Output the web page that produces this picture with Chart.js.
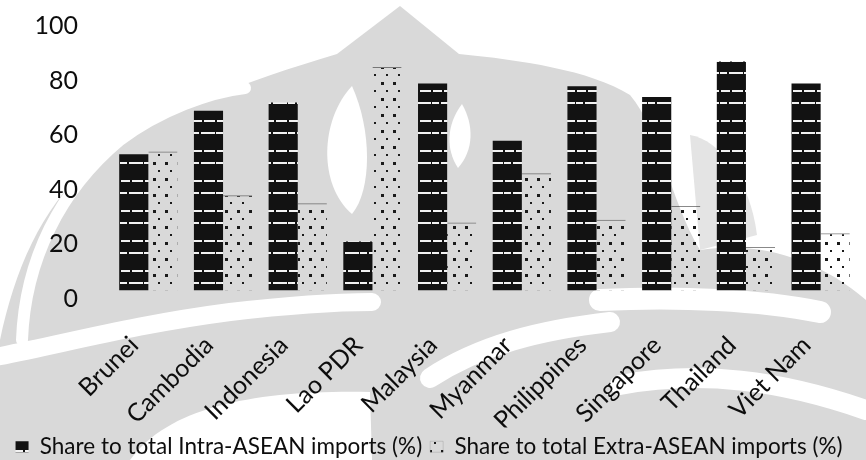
<!DOCTYPE html>
<html>
<head>
<meta charset="utf-8">
<script src="https://cdn.jsdelivr.net/npm/chart.js@4"></script>
<style>
  html, body { margin: 0; padding: 0; background: #ffffff; }
  #wrap { width: 866px; height: 460px; position: relative; }
</style>
</head>
<body>
<div id="wrap"><canvas id="c" width="866" height="460"></canvas></div>
<script>
// ASEAN member states
const countries = ['Brunei', 'Cambodia', 'Indonesia', 'Lao PDR', 'Malaysia',
                   'Myanmar', 'Philippines', 'Singapore', 'Thailand', 'Viet Nam'];
// Share to total Intra-ASEAN imports (%)
const intraShare = [50, 66, 69, 18, 76, 55, 75, 71, 84, 76];
// Share to total Extra-ASEAN imports (%)
const extraShare = [51, 35, 32, 82, 25, 43, 26, 31, 16, 21];
// Value axis ticks
const yTicks = [0, 20, 40, 60, 80, 100];
const seriesNames = ['Share to total Intra-ASEAN imports (%)',
                     'Share to total Extra-ASEAN imports (%)'];

const FONT = 'Lato, "Open Sans", "DejaVu Sans", sans-serif';
const INK = '#0d0d0d';

// Dark hatched fill: near-black with broken white horizontal streaks
function darkPattern() {
  const c = document.createElement('canvas');
  c.width = 24; c.height = 30;
  const g = c.getContext('2d');
  g.fillStyle = '#121212';
  g.fillRect(0, 0, 24, 30);
  g.fillStyle = '#f2f2f2';
  g.fillRect(1, 0, 9, 2); g.fillRect(12, 0, 11, 2);
  g.fillRect(0, 12, 7, 2); g.fillRect(9, 12, 14, 2);
  return g.createPattern(c, 'repeat');
}

// Light fill: transparent with sparse dark specks
function lightPattern() {
  const c = document.createElement('canvas');
  c.width = 12; c.height = 16;
  const g = c.getContext('2d');
  g.fillStyle = '#1a1a1a';
  g.fillRect(9, 2, 3, 3);
  g.fillRect(2, 10, 2, 2);
  return g.createPattern(c, 'repeat');
}

// Soft grey emblem painted behind the plot
const backdrop = {
  id: 'backdrop',
  beforeDraw(chart) {
    const g = chart.ctx;
    const GREY = '#d9d9d9';
    g.save();
    g.fillStyle = '#ffffff';
    g.fillRect(0, 0, chart.width, chart.height);

    // main body with the pointed crown
    g.fillStyle = GREY;
    g.beginPath();
    g.moveTo(400, 6);
    g.lineTo(337, 54);
    g.bezierCurveTo(250, 80, 150, 115, 90, 165);
    g.bezierCurveTo(40, 210, 15, 270, 0, 340);
    g.lineTo(0, 460);
    g.lineTo(866, 460);
    g.lineTo(866, 300);
    g.bezierCurveTo(820, 260, 760, 240, 700, 250);
    g.bezierCurveTo(670, 200, 660, 130, 630, 95);
    g.bezierCurveTo(590, 70, 520, 60, 459, 54);
    g.closePath();
    g.fill();

    // paler patch on the right
    g.fillStyle = '#e4e4e4';
    g.beginPath();
    g.moveTo(690, 135);
    g.bezierCurveTo(720, 140, 750, 180, 757, 235);
    g.lineTo(700, 250);
    g.closePath();
    g.fill();

    // white cut-outs
    g.fillStyle = '#ffffff';
    g.beginPath();
    g.moveTo(352, 86);
    g.bezierCurveTo(320, 120, 318, 185, 352, 214);
    g.bezierCurveTo(372, 190, 372, 130, 352, 86);
    g.fill();
    g.beginPath();
    g.moveTo(462, 104);
    g.bezierCurveTo(446, 125, 446, 150, 458, 168);
    g.bezierCurveTo(474, 150, 474, 125, 462, 104);
    g.fill();

    g.strokeStyle = '#ffffff';
    g.lineCap = 'round';
    // inner ring on the left
    g.lineWidth = 12;
    g.beginPath();
    g.moveTo(22, 340);
    g.bezierCurveTo(25, 260, 60, 190, 120, 140);
    g.bezierCurveTo(160, 110, 210, 92, 245, 88);
    g.stroke();
    // sweeping bands below the axis
    g.lineWidth = 18;
    g.beginPath();
    g.moveTo(-10, 358);
    g.bezierCurveTo(60, 345, 130, 325, 230, 312);
    g.bezierCurveTo(290, 305, 340, 302, 372, 302);
    g.stroke();
    g.lineWidth = 22;
    g.beginPath();
    g.moveTo(600, 300);
    g.bezierCurveTo(680, 296, 760, 300, 820, 312);
    g.stroke();
    g.lineWidth = 20;
    g.beginPath();
    g.moveTo(430, 378);
    g.bezierCurveTo(480, 345, 540, 330, 610, 322);
    g.stroke();
    g.beginPath();
    g.moveTo(620, 385);
    g.bezierCurveTo(700, 370, 780, 380, 866, 410);
    g.stroke();
    // open bowl at the bottom centre
    g.fillStyle = '#ffffff';
    g.beginPath();
    g.moveTo(130, 460);
    g.bezierCurveTo(170, 405, 260, 390, 370, 392);
    g.lineTo(372, 460);
    g.closePath();
    g.fill();
    g.restore();
  }
};

const chart = new Chart(document.getElementById('c'), {
  type: 'bar',
  data: {
    labels: countries,
    datasets: [
      {
        label: seriesNames[0],
        data: intraShare,
        backgroundColor: darkPattern(),
        borderWidth: 0
      },
      {
        label: seriesNames[1],
        data: extraShare,
        backgroundColor: lightPattern(),
        borderColor: 'rgba(20,20,20,0.5)',
        borderWidth: { top: 1, left: 0, right: 0, bottom: 0 },
        borderSkipped: false
      }
    ]
  },
  options: {
    responsive: false,
    animation: false,
    devicePixelRatio: 1,
    layout: { padding: { left: 0, right: 8, top: 18, bottom: -8 } },
    datasets: { bar: { categoryPercentage: 0.78, barPercentage: 1.0 } },
    scales: {
      x: {
        afterFit(scale) { scale.height = 137; scale.paddingLeft = 0; scale.paddingRight = 0; },
        grid: { display: false, drawTicks: false, tickLength: 0 },
        border: { display: false },
        ticks: {
          color: INK,
          font: { family: FONT, size: 25 },
          minRotation: 45, maxRotation: 45,
          padding: 40,
          labelOffset: -14,
          autoSkip: false
        }
      },
      y: {
        min: 0, max: 100,
        afterBuildTicks(scale) { scale.ticks = yTicks.map(v => ({ value: v })); },
        afterFit(scale) { scale.width = 111; scale.paddingTop = 0; scale.paddingBottom = 0; },
        grid: { display: false, drawTicks: false, tickLength: 0 },
        border: { display: false },
        ticks: {
          color: INK,
          font: { family: FONT, size: 25 },
          padding: 33,
          labelOffset: 8
        }
      }
    },
    plugins: {
      legend: {
        position: 'bottom',
        labels: {
          color: INK,
          font: { family: FONT, size: 22.5, lineHeight: 1.0 },
          boxWidth: 13, boxHeight: 11,
          padding: 8
        }
      },
      tooltip: { enabled: false }
    }
  },
  plugins: [backdrop]
});
</script>
</body>
</html>
